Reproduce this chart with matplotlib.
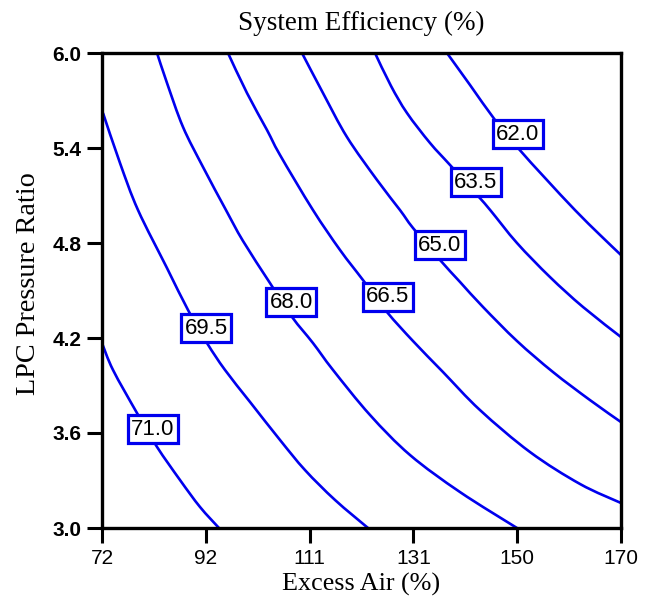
import matplotlib
matplotlib.use("Agg")
import matplotlib.pyplot as plt
from matplotlib.path import Path
from matplotlib.patches import PathPatch
import numpy as np

# ---- data ----
levels = [71.0, 69.5, 68.0, 66.5, 65.0, 63.5, 62.0]

x_710 = [72.0, 74.08, 78.61, 82.39, 86.73, 90.50, 94.09]
y_710 = [4.168, 3.998, 3.726, 3.512, 3.303, 3.133, 3.0]

x_695 = [72.19, 75.40, 78.80, 84.27, 88.24, 91.83, 95.23, 99.95, 105.61, 110.33, 116.0, 122.23]
y_695 = [5.621, 5.305, 5.008, 4.642, 4.377, 4.168, 3.998, 3.796, 3.556, 3.366, 3.177, 3.0]

x_680 = [82.39, 84.27, 87.29, 91.07, 95.41, 98.62, 103.72, 107.88, 111.84, 115.62, 122.60, 130.16, 139.60, 150.36]
y_680 = [6.0, 5.811, 5.533, 5.280, 5.008, 4.813, 4.547, 4.333, 4.168, 3.998, 3.714, 3.461, 3.227, 3.0]

x_665 = [95.79, 99.38, 103.15, 105.61, 111.84, 116.94, 121.28, 125.81, 130.72, 136.39, 143.37, 152.81, 162.26, 170.0]
y_665 = [6.0, 5.747, 5.514, 5.356, 5.008, 4.756, 4.566, 4.364, 4.181, 3.985, 3.745, 3.480, 3.278, 3.158]

x_650 = [109.76, 113.73, 118.26, 123.93, 128.27, 130.72, 135.82, 139.60, 143.94, 150.36, 157.16, 164.14, 170.0]
y_650 = [6.0, 5.747, 5.469, 5.198, 5.008, 4.895, 4.693, 4.554, 4.396, 4.181, 3.985, 3.808, 3.669]

x_635 = [123.55, 126.57, 129.59, 133.93, 137.71, 143.0, 145.45, 150.36, 156.59, 162.82, 170.0]
y_635 = [6.0, 5.792, 5.621, 5.432, 5.293, 5.097, 5.002, 4.800, 4.585, 4.396, 4.206]

x_620 = [137.14, 141.49, 146.21, 150.55, 155.65, 161.31, 166.03, 170.0]
y_620 = [6.0, 5.798, 5.577, 5.400, 5.211, 5.008, 4.851, 4.724]

label_x = [81.63, 91.64, 107.69, 126.0, 135.82, 142.62, 150.55]
label_y = [3.625, 4.263, 4.427, 4.459, 4.787, 5.185, 5.488]
label_text = ["71.0", "69.5", "68.0", "66.5", "65.0", "63.5", "62.0"]

x_ticks = [72, 91.6, 111.2, 130.8, 150.4, 170]
x_ticklabels = ["72", "92", "111", "131", "150", "170"]
y_ticks = [3.0, 3.6, 4.2, 4.8, 5.4, 6.0]
y_ticklabels = ["3.0", "3.6", "4.2", "4.8", "5.4", "6.0"]

lines_x = [x_710, x_695, x_680, x_665, x_650, x_635, x_620]
lines_y = [y_710, y_695, y_680, y_665, y_650, y_635, y_620]


def smooth_path(xs, ys):
    """Catmull-Rom through the read points, drawn as cubic Bezier segments."""
    p = np.column_stack([xs, ys]).astype(float)
    n = len(p)
    verts = [p[0]]
    codes = [Path.MOVETO]
    for i in range(n - 1):
        p0 = p[i - 1] if i > 0 else p[i]
        p1 = p[i]
        p2 = p[i + 1]
        p3 = p[i + 2] if i + 2 < n else p[i + 1]
        c1 = p1 + (p2 - p0) / 6.0
        c2 = p2 - (p3 - p1) / 6.0
        verts += [c1, c2, p2]
        codes += [Path.CURVE4] * 3
    return Path(verts, codes)


# ---- figure ----
fig = plt.figure(figsize=(6.53, 6.04), dpi=100)
ax = fig.add_axes([102/653, 1-528/604, (621-102)/653, (528-53)/604])

blue = "#0000ee"
for xs, ys in zip(lines_x, lines_y):
    ax.add_patch(PathPatch(smooth_path(xs, ys), fc="none", ec=blue, lw=1.9,
                           capstyle="butt", joinstyle="round", zorder=2))

for lx, ly, t in zip(label_x, label_y, label_text):
    ax.text(lx, ly, t, ha="center", va="center", fontsize=16,
            family="Liberation Sans", color="black", zorder=5,
            bbox=dict(boxstyle="square,pad=0.17", fc="white", ec=blue, lw=2.3))

ax.set_xlim(72, 170)
ax.set_ylim(3.0, 6.0)
ax.set_xticks(x_ticks)
ax.set_xticklabels(x_ticklabels)
ax.set_yticks(y_ticks)
ax.set_yticklabels(y_ticklabels)

for s in ax.spines.values():
    s.set_linewidth(2.4)
    s.set_color("black")

ax.tick_params(axis="both", direction="out", length=11, width=2.2,
               labelsize=15, pad=4, colors="black")
for lab in ax.get_xticklabels():
    lab.set_family("Liberation Sans")
for lab in ax.get_yticklabels():
    lab.set_family("Liberation Sans")
    lab.set_fontweight("bold")

ax.set_title("System Efficiency (%)", family="Liberation Serif", fontsize=19.5, pad=16.5)
ax.set_xlabel("Excess Air (%)", family="Liberation Serif", fontsize=18.8, labelpad=4)
ax.set_ylabel("LPC Pressure Ratio", family="Liberation Serif", fontsize=20.3)
ax.yaxis.set_label_coords(-0.117, 0.514)

fig.savefig("out.png", dpi=100)
